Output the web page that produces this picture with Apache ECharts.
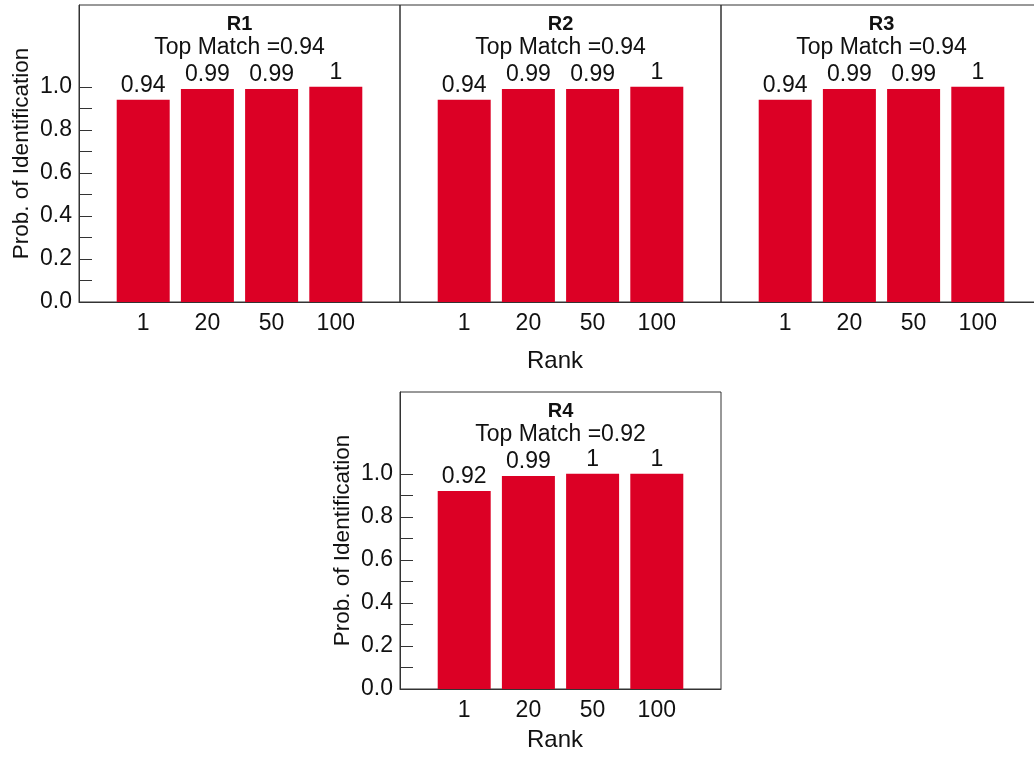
<!DOCTYPE html>
<html>
<head>
<meta charset="utf-8">
<script src="https://cdn.jsdelivr.net/npm/echarts@6/dist/echarts.min.js"></script>
<style>
html,body{margin:0;padding:0;background:#fff;}
#chart{width:1034px;height:757px;}
</style>
</head>
<body>
<div id="chart"></div>
<script>
// ---- data ----
const rankLabels = ['1', '20', '50', '100'];
const panelNames = ['R1', 'R2', 'R3', 'R4'];
const topMatch = [0.94, 0.94, 0.94, 0.92];
const valuesR1 = [0.94, 0.99, 0.99, 1];
const valuesR2 = [0.94, 0.99, 0.99, 1];
const valuesR3 = [0.94, 0.99, 0.99, 1];
const valuesR4 = [0.92, 0.99, 1, 1];
const yTickLabels = [0, 0.2, 0.4, 0.6, 0.8, 1.0];
const yTickMarks = [0, 0.1, 0.2, 0.3, 0.4, 0.5, 0.6, 0.7, 0.8, 0.9, 1.0];
const yMax = 1.38;

const panelValues = [valuesR1, valuesR2, valuesR3, valuesR4];

// ---- layout ----
const FONT = 'Liberation Sans, Arial, Helvetica, sans-serif';
const TXT = '#111';
const LINE = '#333';
const BAR = '#dc0025';
const grids = [
  {left: 79, top: 5, width: 321, height: 297},
  {left: 400, top: 5, width: 321, height: 297},
  {left: 721, top: 5, width: 321, height: 297},
  {left: 400, top: 392, width: 321, height: 297}
];
const showY = [true, false, false, true];
const showRank = [false, true, false, true];
const rankGap = [0, 47, 0, 39];

const option = {
  backgroundColor: '#fff',
  animation: false,
  textStyle: {fontFamily: FONT, color: TXT},
  title: grids.map((g, i) => ({
    text: panelNames[i],
    subtext: 'Top Match =' + topMatch[i],
    left: g.left + g.width / 2,
    top: g.top + 9,
    padding: 0,
    textAlign: 'center',
    itemGap: 2,
    textStyle: {fontFamily: FONT, fontSize: 20, fontWeight: 'bold', color: TXT},
    subtextStyle: {fontFamily: FONT, fontSize: 23, color: TXT}
  })),
  grid: grids.map(g => ({
    left: g.left, top: g.top, width: g.width, height: g.height,
    show: true, borderColor: LINE, borderWidth: 1, backgroundColor: 'transparent',
    containLabel: false,
    outerBoundsMode: 'none'
  })),
  xAxis: grids.map((g, i) => ({
    gridIndex: i,
    type: 'value',
    min: 0, max: 5, interval: 1,
    axisLine: {show: true, lineStyle: {color: LINE, width: 1}},
    axisTick: {show: false},
    splitLine: {show: false},
    axisLabel: {
      fontFamily: FONT, fontSize: 23, color: TXT, margin: 10,
      formatter: v => rankLabels[v - 1] || ''
    },
    name: showRank[i] ? 'Rank' : '',
    nameLocation: 'middle',
    nameGap: rankGap[i],
    nameTextStyle: {fontFamily: FONT, fontSize: 24, color: TXT, padding: [0, 11, 0, 0]}
  })),
  yAxis: grids.map((g, i) => ({
    gridIndex: i,
    type: 'value',
    min: 0, max: yMax,
    axisLine: {show: showY[i], lineStyle: {color: LINE, width: 1}},
    axisTick: {
      show: showY[i], inside: true, length: 13,
      customValues: yTickMarks,
      lineStyle: {color: LINE, width: 1}
    },
    splitLine: {show: false},
    axisLabel: {
      show: showY[i],
      customValues: yTickLabels,
      fontFamily: FONT, fontSize: 23, color: TXT, margin: 7,
      formatter: v => Number(v).toFixed(1)
    },
    name: showY[i] ? 'Prob. of Identification' : '',
    nameLocation: 'middle',
    nameGap: 46,
    nameRotate: 90,
    nameTextStyle: {fontFamily: FONT, fontSize: 22.5, color: TXT}
  })),
  series: panelValues.map((vals, i) => ({
    type: 'bar',
    xAxisIndex: i,
    yAxisIndex: i,
    barWidth: 53,
    itemStyle: {color: BAR},
    label: {
      show: true, position: 'top', distance: 3,
      fontFamily: FONT, fontSize: 23, color: TXT,
      formatter: p => String(p.value[1])
    },
    data: vals.map((v, k) => [k + 1, v])
  }))
};

const chart = echarts.init(document.getElementById('chart'), null, {renderer: 'canvas'});
chart.setOption(option);
</script>
</body>
</html>
